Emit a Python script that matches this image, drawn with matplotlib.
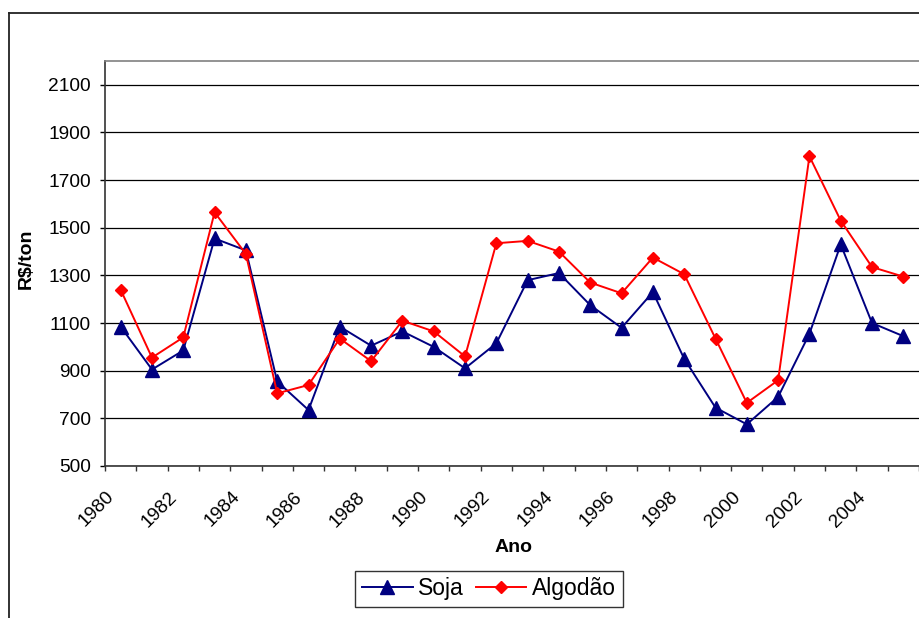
import matplotlib
matplotlib.use('Agg')
import matplotlib.pyplot as plt
from matplotlib.lines import Line2D
from matplotlib.transforms import ScaledTranslation

anos = list(range(1980, 2006))
soja = [1085, 905, 985, 1455, 1405, 855, 735, 1085, 1005, 1065, 1000, 910, 1015,
        1280, 1310, 1175, 1080, 1230, 950, 745, 675, 790, 1055, 1430, 1100, 1045]
algodao = [1240, 955, 1040, 1565, 1390, 805, 840, 1035, 940, 1110, 1065, 960, 1435,
           1445, 1400, 1270, 1225, 1375, 1305, 1035, 765, 860, 1800, 1530, 1335, 1295]
yticks = [500, 700, 900, 1100, 1300, 1500, 1700, 1900, 2100]

plt.rcParams['font.family'] = ['Liberation Sans', 'DejaVu Sans']

fig = plt.figure(figsize=(9.2, 6.18), dpi=100)
ax = fig.add_axes([105 / 920, 1 - 466 / 618, 814 / 920, 405 / 618])

x = list(range(len(anos)))
ax.plot(x, soja, color='#000080', lw=1.4, marker='^', ms=9.5, mfc='#000080',
        mec='#000080', label='Soja')
ax.plot(x, algodao, color='#ff0000', lw=1.4, marker='D', ms=6.5, mfc='#ff0000',
        mec='#ff0000', label='Algodão')

ax.set_xlim(-0.5, len(anos) - 0.5)
ax.set_ylim(500, 2200)
ax.set_yticks(yticks)
ax.set_yticklabels([str(v) for v in yticks], fontsize=13.8)
ax.yaxis.grid(True, color='black', lw=0.9)
ax.set_axisbelow(True)
ax.tick_params(axis='y', direction='out', length=3.6, width=1, pad=6.5, color='black')

# labels every 2 years, tick marks at category boundaries
ax.set_xticks(x[::2])
ax.set_xticklabels([str(a) for a in anos[::2]], fontsize=13.8, rotation=45,
                   ha='right', va='top', rotation_mode='anchor')
ax.set_xticks([i - 0.5 for i in range(len(anos) + 1)], minor=True)
ax.tick_params(axis='x', which='major', length=0, pad=16.0)
ax.tick_params(axis='x', which='minor', direction='out', length=3.6, width=1, color='#333333')
shift = ScaledTranslation(-15 / 100, 0, fig.dpi_scale_trans)
for lab in ax.get_xticklabels():
    lab.set_transform(lab.get_transform() + shift)

ax.spines['top'].set_color('#808080')
ax.spines['right'].set_visible(False)
ax.spines['left'].set_color('#333333')
ax.spines['bottom'].set_color('#333333')
for s in ax.spines.values():
    s.set_linewidth(1.2)

fig.text(26.5 / 920, 1 - 259 / 618, 'R\\$/ton', rotation=90, fontsize=14,
         fontweight='bold', ha='center', va='center')
fig.text(513.5 / 920, 1 - 548 / 618, 'Ano', fontsize=14, fontweight='bold',
         ha='center', va='center')

leg = fig.legend(loc='center', bbox_to_anchor=(489 / 920, 1 - 589 / 618), ncol=2,
                 fontsize=16.5, frameon=True, fancybox=False, edgecolor='#333333',
                 framealpha=1, handlelength=2.2, handletextpad=0.25,
                 columnspacing=0.5, borderpad=0.3)
leg.get_frame().set_linewidth(1.0)

# outer chart frame
fig.add_artist(Line2D([9 / 920, 1.0], [1 - 13 / 618, 1 - 13 / 618],
                      transform=fig.transFigure, color='#222222', lw=1.3))
fig.add_artist(Line2D([9 / 920, 9 / 920], [0, 1 - 13 / 618],
                      transform=fig.transFigure, color='#222222', lw=1.3))

fig.savefig('out.png', dpi=100)
